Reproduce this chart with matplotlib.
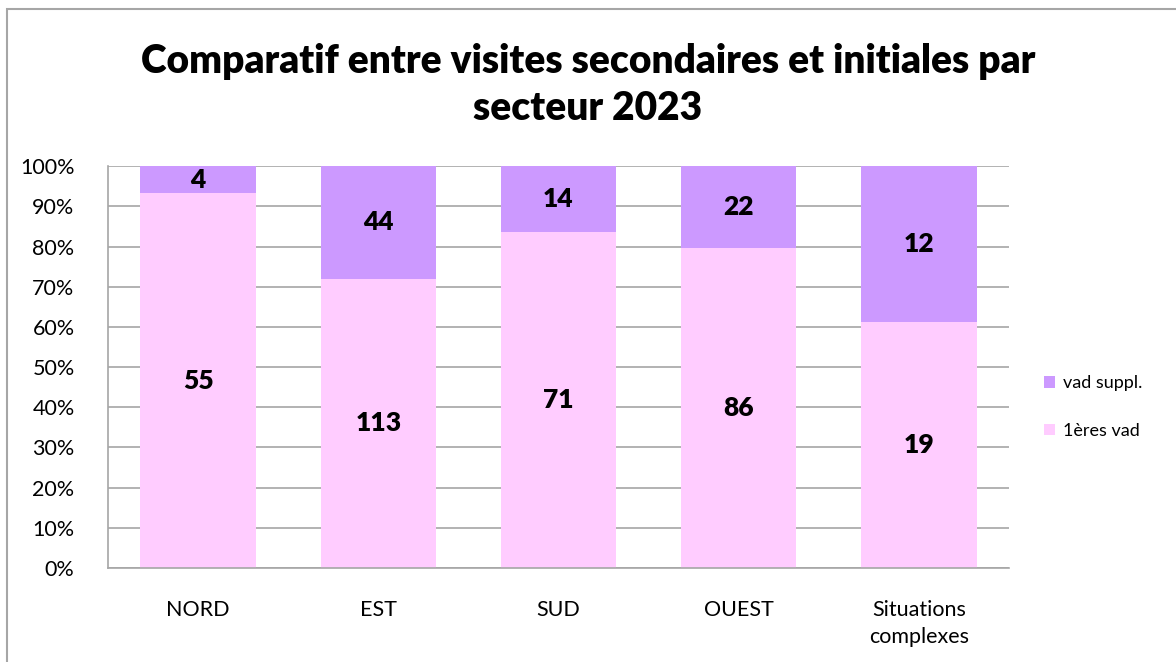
import numpy as np
import matplotlib
matplotlib.use("Agg")
import matplotlib.pyplot as plt
from matplotlib.patches import Rectangle

plt.rcParams['font.family'] = ['Lato', 'DejaVu Sans']

SECTEURS = ["NORD", "EST", "SUD", "OUEST", "Situations\ncomplexes"]
PREMIERES = [55, 113, 71, 86, 19]
SUPPL = [4, 44, 14, 22, 12]
Y_TICKS = [0, 10, 20, 30, 40, 50, 60, 70, 80, 90, 100]
TITRE = "Comparatif entre visites secondaires et initiales par\nsecteur 2023"

ROSE = "#FFCCFF"
VIOLET = "#CC99FF"
GRIS = "#A6A6A6"

def main():
    fig = plt.figure(figsize=(11.76, 6.62), dpi=100)
    ax = fig.add_axes([0.0918, 0.142, 0.7662, 0.607])

    prem = np.array(PREMIERES, dtype=float)
    supp = np.array(SUPPL, dtype=float)
    total = prem + supp
    p1 = prem / total * 100
    p2 = supp / total * 100
    x = np.arange(len(SECTEURS))

    ax.bar(x, p1, width=0.64, color=ROSE, label="1ères vad", zorder=2)
    ax.bar(x, p2, width=0.64, bottom=p1, color=VIOLET, label="vad suppl.", zorder=2)

    for i in range(len(x)):
        ax.text(x[i], p1[i] / 2, str(PREMIERES[i]), ha="center", va="center",
                fontsize=19, fontweight="heavy", color="black", zorder=3)
        ax.text(x[i], p1[i] + p2[i] / 2, str(SUPPL[i]), ha="center", va="center",
                fontsize=19, fontweight="heavy", color="black", zorder=3)

    ax.set_xlim(-0.5, len(x) - 0.5)
    ax.set_ylim(0, 100)
    ax.set_yticks(Y_TICKS)
    ax.set_yticklabels([f"{t}%" for t in Y_TICKS])
    ax.set_xticks(x)
    ax.set_xticklabels(SECTEURS, linespacing=1.45)
    ax.tick_params(axis="both", length=0, labelsize=15.5, colors="black")
    ax.tick_params(axis="y", pad=24)
    ax.tick_params(axis="x", pad=23)
    ax.yaxis.grid(True, color=GRIS, linewidth=1.2, zorder=0)
    ax.set_axisbelow(True)
    for s in ["top", "right"]:
        ax.spines[s].set_visible(False)
    for s in ["left", "bottom"]:
        ax.spines[s].set_color(GRIS)
        ax.spines[s].set_linewidth(1.2)

    handles, labels = ax.get_legend_handles_labels()
    leg = fig.legend(handles[::-1], labels[::-1], loc="center left",
                     bbox_to_anchor=(0.874, 0.385), frameon=False, fontsize=13,
                     handlelength=0.6, handleheight=0.6, labelspacing=1.75,
                     handletextpad=0.45)

    fig.text(0.5, 0.872, TITRE, ha="center", va="center", fontsize=28,
             fontweight="heavy", linespacing=1.33)

    fig.patches.append(Rectangle((7 / 1176, -0.01), 1.1, 1 - 9 / 662 + 0.01,
                                 transform=fig.transFigure, fill=False,
                                 edgecolor=GRIS, linewidth=1.5))

    fig.savefig("out.png", dpi=100)

if __name__ == "__main__":
    main()
